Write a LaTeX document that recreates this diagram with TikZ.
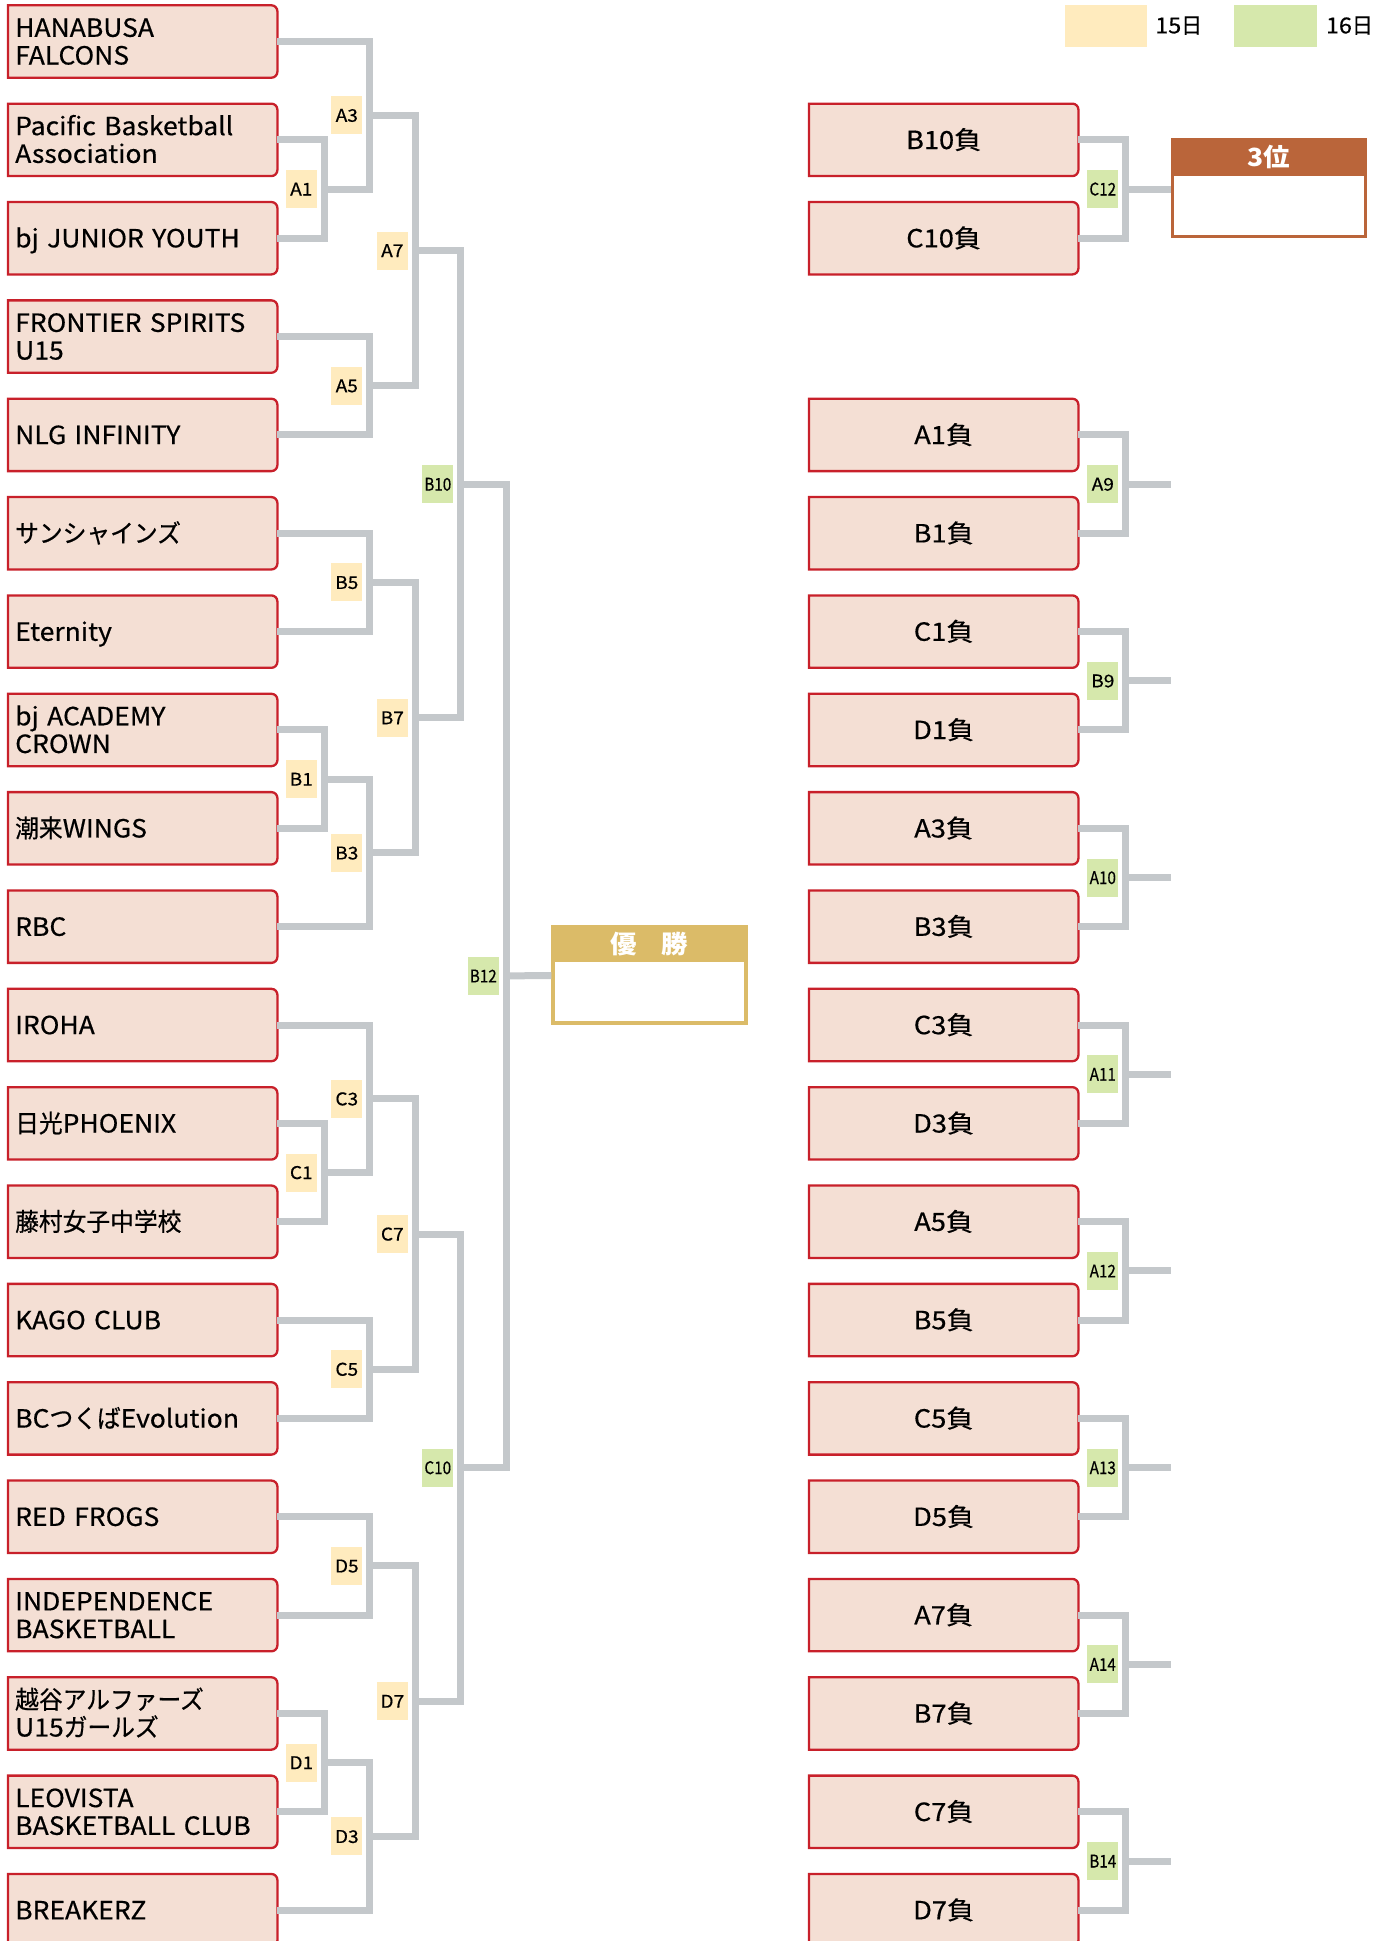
\documentclass[tikz,border=0pt]{standalone}
\usepackage{fontspec}
\setmainfont{Noto Sans CJK JP}[FakeStretch=1.06, UprightFeatures={FakeBold=0.5}]
\newfontfamily\jp{Noto Sans CJK JP}[FakeStretch=0.95, UprightFeatures={FakeBold=0.5}]
\newfontfamily\wide{Noto Sans CJK JP}[FakeStretch=1.09, UprightFeatures={FakeBold=0.5}]
\usepackage{graphicx}
\usetikzlibrary{positioning, backgrounds}
\definecolor{boxpink}{RGB}{244,223,212}
\definecolor{boxred}{RGB}{200,32,42}
\definecolor{wiregray}{RGB}{196,200,203}
\definecolor{dayone}{RGB}{255,235,190}
\definecolor{daytwo}{RGB}{214,232,172}
\definecolor{champgold}{RGB}{219,187,104}
\definecolor{thirdbrown}{RGB}{186,101,58}

\begin{document}
\begin{tikzpicture}[x=1pt, y=-1pt,
  team/.style={minimum width=269pt, minimum height=72pt, inner xsep=7pt, inner ysep=0pt,
    anchor=west, text width=255pt, align=left, font=\fontsize{25}{27.7}\selectfont, text height=18.3pt},
  one/.style={text depth=0pt},
  two/.style={text depth=27.7pt},
  loser/.style={minimum width=269pt, minimum height=72pt, inner sep=0pt,
    font=\wide\fontsize{25}{27.7}\selectfont, text height=18.3pt, text depth=0pt},
  boxline/.style={draw=boxred, fill=boxpink, line width=2.3pt},
  wire/.style={draw=wiregray, line width=7pt, line join=miter},
  match/.style={minimum width=31pt, minimum height=38pt, inner sep=0pt,
    font=\wide\fontsize{17.5}{17.5}\selectfont, text height=13pt, text depth=0pt},
  d15/.style={match, fill=dayone},
  d16/.style={match, fill=daytwo},
  medal/.style={minimum width=193pt, minimum height=95pt, inner sep=0pt, line width=3.3pt, fill=white},
  medalhead/.style={minimum width=196.3pt, minimum height=37.5pt, inner sep=0pt, anchor=north,
    text=white, font=\fontsize{25}{25}\selectfont\bfseries},
  key/.style={minimum width=82.5pt, minimum height=42pt, inner sep=0pt, anchor=north west},
  keytext/.style={inner sep=0pt, font=\fontsize{22}{22}\selectfont}
]
\useasboundingbox (0,0) rectangle (1378,1941);

% legend
\node[key, fill=dayone] (key15) at (1064.4,4.4) {};
\node[keytext, right=7.8pt of key15] (key15txt) {15{\jp 日}};
\node[key, fill=daytwo] (key16) at (1234,4.4) {};
\node[keytext, right=8.9pt of key16] (key16txt) {16{\jp 日}};

% teams
\node[team, two] (t1) at (8,41.5) {HANABUSA\\FALCONS};
\node[team, two] (t2) at (8,139.85) {Pacific Basketball\\Association};
\node[team, one] (t3) at (8,238.2) {bj JUNIOR YOUTH};
\node[team, two] (t4) at (8,336.55) {FRONTIER SPIRITS\\U15};
\node[team, one] (t5) at (8,434.9) {NLG INFINITY};
\node[team, one] (t6) at (8,533.25) {{\jp サンシャインズ}};
\node[team, one] (t7) at (8,631.6) {Eternity};
\node[team, two] (t8) at (8,729.95) {bj ACADEMY\\CROWN};
\node[team, one] (t9) at (8,828.3) {{\jp 潮来}WINGS};
\node[team, one] (t10) at (8,926.65) {RBC};
\node[team, one] (t11) at (8,1025) {IROHA};
\node[team, one] (t12) at (8,1123.35) {{\jp 日光}PHOENIX};
\node[team, one] (t13) at (8,1221.7) {{\jp 藤村女子中学校}};
\node[team, one] (t14) at (8,1320.05) {KAGO CLUB};
\node[team, one] (t15) at (8,1418.4) {BC{\jp つくば}Evolution};
\node[team, one] (t16) at (8,1516.75) {RED FROGS};
\node[team, two] (t17) at (8,1615.1) {INDEPENDENCE\\BASKETBALL};
\node[team, two] (t18) at (8,1713.45) {{\jp 越谷アルファーズ}\\U15{\jp ガールズ}};
\node[team, two] (t19) at (8,1811.8) {LEOVISTA\\BASKETBALL CLUB};
\node[team, one] (t20) at (8,1910.15) {BREAKERZ};

% losers
\node[loser] (r2) at (943.7,139.85) {B10負};
\node[loser] (r3) at (943.7,238.2) {C10負};
\node[loser] (r5) at (943.7,434.9) {A1負};
\node[loser] (r6) at (943.7,533.25) {B1負};
\node[loser] (r7) at (943.7,631.6) {C1負};
\node[loser] (r8) at (943.7,729.95) {D1負};
\node[loser] (r9) at (943.7,828.3) {A3負};
\node[loser] (r10) at (943.7,926.65) {B3負};
\node[loser] (r11) at (943.7,1025) {C3負};
\node[loser] (r12) at (943.7,1123.35) {D3負};
\node[loser] (r13) at (943.7,1221.7) {A5負};
\node[loser] (r14) at (943.7,1320.05) {B5負};
\node[loser] (r15) at (943.7,1418.4) {C5負};
\node[loser] (r16) at (943.7,1516.75) {D5負};
\node[loser] (r17) at (943.7,1615.1) {A7負};
\node[loser] (r18) at (943.7,1713.45) {B7負};
\node[loser] (r19) at (943.7,1811.8) {C7負};
\node[loser] (r20) at (943.7,1910.15) {D7負};

\begin{scope}[on background layer]
\foreach \i in {1,...,20} {
  \draw[boxline] (t\i.south west) -- (t\i.north west) -- ([xshift=-6pt]t\i.north east)
    arc[start angle=90, end angle=0, radius=6pt] -- ([yshift=6pt]t\i.south east)
    arc[start angle=0, end angle=-90, radius=6pt] -- cycle;
}
\foreach \i in {2,3,5,6,...,20} {
  \draw[boxline] (r\i.south west) -- (r\i.north west) -- ([xshift=-6pt]r\i.north east)
    arc[start angle=90, end angle=0, radius=6pt] -- ([yshift=6pt]r\i.south east)
    arc[start angle=0, end angle=-90, radius=6pt] -- cycle;
}
\end{scope}

% winner and third place
\node[medal, draw=champgold] (win) at (649.5,975.5) {};
\node[medalhead, fill=champgold] (winhead) at ([yshift=1.65pt]win.north) {優\hspace{1em}勝};
\node[medal, draw=thirdbrown] (third) at (1269,189) {};
\node[medalhead, fill=thirdbrown] (thirdhead) at ([yshift=1.65pt]third.north) {3位};

% match points
\coordinate (mA1) at (324,189);
\coordinate (mA3) at (369.5,115.25);
\coordinate (mA5) at (369.5,385.7);
\coordinate (mA7) at (415,250.5);
\coordinate (mB5) at (369.5,582.4);
\coordinate (mB1) at (324,779.1);
\coordinate (mB3) at (369.5,852.9);
\coordinate (mB7) at (415,717.7);
\coordinate (mB10) at (460.5,484.1);
\coordinate (mC1) at (324,1172.5);
\coordinate (mC3) at (369.5,1098.8);
\coordinate (mC5) at (369.5,1369.2);
\coordinate (mC7) at (415,1234);
\coordinate (mD5) at (369.5,1565.9);
\coordinate (mD1) at (324,1762.6);
\coordinate (mD3) at (369.5,1836.4);
\coordinate (mD7) at (415,1701.2);
\coordinate (mC10) at (460.5,1467.6);
\coordinate (mB12) at (506,975.9);

\coordinate (mC12) at (1125.5,189);
\coordinate (mA9) at (1125.5,484.1);
\coordinate (mB9) at (1125.5,680.8);
\coordinate (mA10) at (1125.5,877.5);
\coordinate (mA11) at (1125.5,1074.2);
\coordinate (mA12) at (1125.5,1270.9);
\coordinate (mA13) at (1125.5,1467.6);
\coordinate (mA14) at (1125.5,1664.3);
\coordinate (mB14) at (1125.5,1861);
\coordinate (eA9) at (1171,484.1);
\coordinate (eB9) at (1171,680.8);
\coordinate (eA10) at (1171,877.5);
\coordinate (eA11) at (1171,1074.2);
\coordinate (eA12) at (1171,1270.9);
\coordinate (eA13) at (1171,1467.6);
\coordinate (eA14) at (1171,1664.3);
\coordinate (eB14) at (1171,1861);

% left bracket
\draw[wire] (t2.east) -| (mA1) |- (t3.east);
\draw[wire] (t1.east) -| (mA3) |- (mA1);
\draw[wire] (t4.east) -| (mA5) |- (t5.east);
\draw[wire] (mA3) -| (mA7) |- (mA5);
\draw[wire] (t6.east) -| (mB5) |- (t7.east);
\draw[wire] (t8.east) -| (mB1) |- (t9.east);
\draw[wire] (mB1) -| (mB3) |- (t10.east);
\draw[wire] (mB5) -| (mB7) |- (mB3);
\draw[wire] (mA7) -| (mB10) |- (mB7);
\draw[wire] (t12.east) -| (mC1) |- (t13.east);
\draw[wire] (t11.east) -| (mC3) |- (mC1);
\draw[wire] (t14.east) -| (mC5) |- (t15.east);
\draw[wire] (mC3) -| (mC7) |- (mC5);
\draw[wire] (t16.east) -| (mD5) |- (t17.east);
\draw[wire] (t18.east) -| (mD1) |- (t19.east);
\draw[wire] (mD1) -| (mD3) |- (t20.east);
\draw[wire] (mD5) -| (mD7) |- (mD3);
\draw[wire] (mC7) -| (mC10) |- (mD7);
\draw[wire] (mB10) -| (mB12) |- (mC10);
\draw[wire] (mB12) -- (win.west);

% right bracket
\draw[wire] (r2.east) -| (mC12) |- (r3.east);
\draw[wire] (mC12) -- (third.west);
\draw[wire] (r5.east) -| (mA9) |- (r6.east);
\draw[wire] (mA9) -- (eA9);
\draw[wire] (r7.east) -| (mB9) |- (r8.east);
\draw[wire] (mB9) -- (eB9);
\draw[wire] (r9.east) -| (mA10) |- (r10.east);
\draw[wire] (mA10) -- (eA10);
\draw[wire] (r11.east) -| (mA11) |- (r12.east);
\draw[wire] (mA11) -- (eA11);
\draw[wire] (r13.east) -| (mA12) |- (r14.east);
\draw[wire] (mA12) -- (eA12);
\draw[wire] (r15.east) -| (mA13) |- (r16.east);
\draw[wire] (mA13) -- (eA13);
\draw[wire] (r17.east) -| (mA14) |- (r18.east);
\draw[wire] (mA14) -- (eA14);
\draw[wire] (r19.east) -| (mB14) |- (r20.east);
\draw[wire] (mB14) -- (eB14);

% match labels
\node[d15, left=7pt of mA1] (lA1) {A1};
\node[d15, left=7pt of mA3] (lA3) {A3};
\node[d15, left=7pt of mA5] (lA5) {A5};
\node[d15, left=7pt of mA7] (lA7) {A7};
\node[d15, left=7pt of mB1] (lB1) {B1};
\node[d15, left=7pt of mB3] (lB3) {B3};
\node[d15, left=7pt of mB5] (lB5) {B5};
\node[d15, left=7pt of mB7] (lB7) {B7};
\node[d15, left=7pt of mC1] (lC1) {C1};
\node[d15, left=7pt of mC3] (lC3) {C3};
\node[d15, left=7pt of mC5] (lC5) {C5};
\node[d15, left=7pt of mC7] (lC7) {C7};
\node[d15, left=7pt of mD1] (lD1) {D1};
\node[d15, left=7pt of mD3] (lD3) {D3};
\node[d15, left=7pt of mD5] (lD5) {D5};
\node[d15, left=7pt of mD7] (lD7) {D7};
\node[d16, left=7pt of mB10] (lB10) {\scalebox{.8}[1]{B10}};
\node[d16, left=7pt of mC10] (lC10) {\scalebox{.8}[1]{C10}};
\node[d16, left=7pt of mB12] (lB12) {\scalebox{.8}[1]{B12}};
\node[d16, left=7pt of mC12] (lC12) {\scalebox{.8}[1]{C12}};
\node[d16, left=7pt of mA9] (lA9) {A9};
\node[d16, left=7pt of mB9] (lB9) {B9};
\node[d16, left=7pt of mA10] (lA10) {\scalebox{.8}[1]{A10}};
\node[d16, left=7pt of mA11] (lA11) {\scalebox{.8}[1]{A11}};
\node[d16, left=7pt of mA12] (lA12) {\scalebox{.8}[1]{A12}};
\node[d16, left=7pt of mA13] (lA13) {\scalebox{.8}[1]{A13}};
\node[d16, left=7pt of mA14] (lA14) {\scalebox{.8}[1]{A14}};
\node[d16, left=7pt of mB14] (lB14) {\scalebox{.8}[1]{B14}};
\end{tikzpicture}
\end{document}
